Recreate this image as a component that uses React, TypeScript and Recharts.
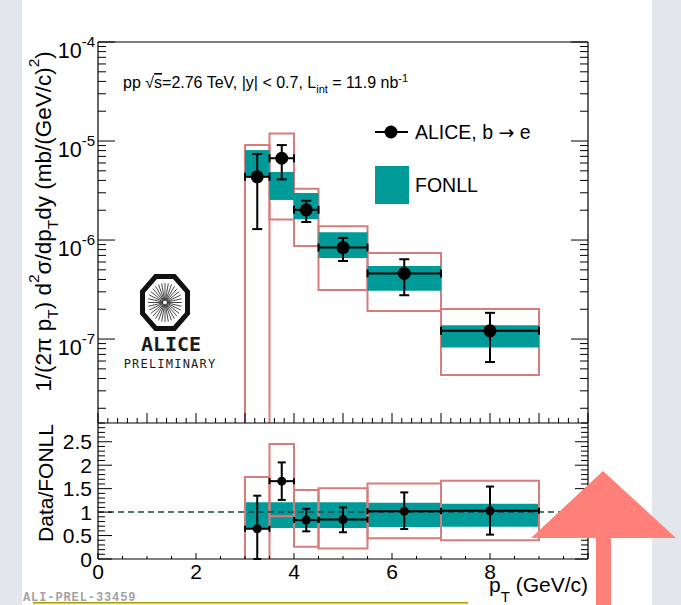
import React from 'react';
import {
  ComposedChart,
  XAxis,
  YAxis,
  Scatter,
  ErrorBar,
  ReferenceArea,
  ReferenceLine,
  Legend,
} from 'recharts';

const FONT = '"Liberation Sans", Arial, Helvetica, sans-serif';
const TEAL = '#009a99';
const SYS = '#d77b7b';
const INK = '#000000';
const GRAY = '#e3e6ea';
const ARROW = '#ff8079';

// ---- bins (pT, GeV/c) ----
const binLow = [3, 3.5, 4, 4.5, 5.5, 7];
const binHigh = [3.5, 4, 4.5, 5.5, 7, 9];
const binCenter = [3.25, 3.75, 4.25, 5, 6.25, 8];

// ---- top panel: cross section ----
const crossSection = [4.35e-6, 6.7e-6, 2.02e-6, 8.4e-7, 4.6e-7, 1.21e-7];
const crossStatHigh = [7.4e-6, 9.1e-6, 2.49e-6, 1.05e-6, 6.4e-7, 1.84e-7];
const crossStatLow = [1.29e-6, 4.1e-6, 1.52e-6, 6.14e-7, 2.77e-7, 5.86e-8];
const crossSysHigh = [9.1e-6, 1.19e-5, 3.3e-6, 1.38e-6, 7.4e-7, 2.01e-7];
const crossSysLow = [1e-9, 1.61e-6, 8.7e-7, 3.13e-7, 1.92e-7, 4.33e-8];
const fonllHigh = [8.1e-6, 4.87e-6, 2.99e-6, 1.2e-6, 5.46e-7, 1.38e-7];
const fonllLow = [4.4e-6, 2.54e-6, 1.62e-6, 6.6e-7, 3.08e-7, 8.2e-8];

// ---- bottom panel: Data/FONLL ----
const ratioValue = [0.645, 1.66, 0.83, 0.84, 1.02, 1.03];
const ratioStatHigh = [1.35, 2.06, 1.07, 1.1, 1.42, 1.545];
const ratioStatLow = [0.0, 1.26, 0.59, 0.57, 0.64, 0.52];
const ratioSysHigh = [1.75, 2.45, 1.47, 1.51, 1.61, 1.67];
const ratioSysLow = [-0.2, 0.91, 0.26, 0.225, 0.44, 0.4];
const ratioBandHigh = [1.21, 1.21, 1.21, 1.21, 1.2, 1.18];
const ratioBandLow = [0.66, 0.66, 0.66, 0.66, 0.68, 0.69];

// ---- axes ----
const TOP_Y_MIN = 1.42e-8;
const TOP_Y_MAX = 1e-4;
const RATIO_Y_MAX = 2.9;
const X_MAX = 10;
const decadeExponents = [-8, -7, -6, -5, -4];
const ratioTickLabels = [0, 0.5, 1, 1.5, 2, 2.5];
const ratioTickText = ['0', '0.5', '1', '1.5', '2', '2.5'];
const xTickLabels = [0, 2, 4, 6, 8];
const xTickText = ['0', '2', '4', '6', '8'];

const topYTicks: number[] = [];
decadeExponents.forEach((e) => {
  for (let k = 1; k <= 9; k++) {
    const v = k * Math.pow(10, e);
    if (v >= TOP_Y_MIN * 0.999 && v <= TOP_Y_MAX * 1.0001) topYTicks.push(v);
  }
});
const topXTicks = Array.from({ length: 51 }, (_, i) => +(i * 0.2).toFixed(2));
const ratioXTicks = Array.from({ length: 21 }, (_, i) => i * 0.5);
const ratioYTicks = Array.from({ length: 30 }, (_, i) => +(i * 0.1).toFixed(1));

// ---- tables for the library ----
const topRows = binCenter.map((x, i) => ({
  x,
  y: crossSection[i],
  ey: [crossSection[i] - crossStatLow[i], crossStatHigh[i] - crossSection[i]],
  ex: [x - binLow[i], binHigh[i] - x],
}));
const ratioRows = binCenter.map((x, i) => ({
  x,
  y: ratioValue[i],
  ey: [ratioValue[i] - ratioStatLow[i], ratioStatHigh[i] - ratioValue[i]],
  ex: [x - binLow[i], binHigh[i] - x],
}));

const near = (a: number, b: number) => Math.abs(a - b) < 1e-6;
const isDecade = (v: number) => near(Math.log10(v), Math.round(Math.log10(v)));
const isInt = (v: number) => near(v, Math.round(v));

type Side = 'left' | 'right' | 'top' | 'bottom';
function makeTick(
  side: Side,
  isMajor: (v: number) => boolean,
  majorLen: number,
  minorLen: number,
  label?: (v: number, x: number, y: number) => React.ReactNode
) {
  return (p: any) => {
    const { x, y, payload } = p;
    const v = payload.value as number;
    const maj = isMajor(v);
    const len = maj ? majorLen : minorLen;
    let x2 = x;
    let y2 = y;
    if (side === 'left') x2 = x + len;
    else if (side === 'right') x2 = x - len;
    else if (side === 'top') y2 = y + len;
    else y2 = y - len;
    return (
      <g>
        <line x1={x} y1={y} x2={x2} y2={y2} stroke={INK} strokeWidth={1} />
        {maj && label ? label(v, x, y) : null}
      </g>
    );
  };
}

const decadeLabel = (v: number, x: number, y: number) => {
  const e = Math.round(Math.log10(v));
  return (
    <text x={x - 3} y={y + 16} textAnchor="end" fontFamily={FONT} fontSize={21.5} fill={INK}>
      <tspan>10</tspan>
      <tspan dy={-11} fontSize={15}>
        {String(e)}
      </tspan>
    </text>
  );
};
const ratioLabel = (v: number, x: number, y: number) => {
  const idx = ratioTickLabels.findIndex((t) => near(t, v));
  return (
    <text x={x - 6} y={y + 7.5} textAnchor="end" fontFamily={FONT} fontSize={21} fill={INK}>
      {ratioTickText[idx]}
    </text>
  );
};
const xLabel = (v: number, x: number, y: number) => {
  const idx = xTickLabels.findIndex((t) => near(t, v));
  if (idx < 0) return null;
  return (
    <text x={x} y={y + 20} textAnchor="middle" fontFamily={FONT} fontSize={21} fill={INK}>
      {xTickText[idx]}
    </text>
  );
};

const isRatioMajor = (v: number) => ratioTickLabels.some((t) => near(t, v));
const isXMajor2 = (v: number) => xTickLabels.some((t) => near(t, v)) || near(v, X_MAX);

const TopYTitle = (props: any) => {
  const vb = props.viewBox;
  const x = vb.x + 51;
  const y = vb.y + vb.height / 2 - 11;
  return (
    <text transform={`translate(${x},${y}) rotate(-90)`} textAnchor="middle" fontFamily={FONT} fontSize={22.5} fill={INK}>
      <tspan>1/(2π p</tspan>
      <tspan dy={7} fontSize={15.5}>T</tspan>
      <tspan dy={-7}>) d</tspan>
      <tspan dy={-12} fontSize={15.5}>2</tspan>
      <tspan dy={12}>σ/dp</tspan>
      <tspan dy={7} fontSize={15.5}>T</tspan>
      <tspan dy={-7}>dy (mb/(GeV/c)</tspan>
      <tspan dy={-12} fontSize={15.5}>2</tspan>
      <tspan dy={12}>)</tspan>
    </text>
  );
};
const RatioYTitle = (props: any) => {
  const vb = props.viewBox;
  const x = vb.x + 53;
  const y = vb.y + vb.height / 2 - 8;
  return (
    <text transform={`translate(${x},${y}) rotate(-90)`} textAnchor="middle" fontFamily={FONT} fontSize={21} fill={INK}>
      Data/FONLL
    </text>
  );
};
const XTitle = (props: any) => {
  const vb = props.viewBox;
  return (
    <text x={vb.x + vb.width} y={vb.y + 33} textAnchor="end" fontFamily={FONT} fontSize={21} fill={INK}>
      <tspan>p</tspan>
      <tspan dy={10} fontSize={15}>T</tspan>
      <tspan dy={-10}> (GeV/c)</tspan>
    </text>
  );
};

const LegendBox = () => (
  <svg width={220} height={100} style={{ display: 'block', overflow: 'visible' }}>
    <line x1={5} x2={38} y1={17} y2={17} stroke={INK} strokeWidth={2} />
    <circle cx={21} cy={17} r={6.5} fill={INK} />
    <text x={45} y={24} fontFamily={FONT} fontSize={19.5} fill={INK}>
      <tspan>ALICE, b </tspan>
      <tspan fontFamily='"DejaVu Sans", sans-serif' fontSize={19}>→</tspan>
      <tspan> e</tspan>
    </text>
    <rect x={5} y={51} width={34} height={38} fill={TEAL} />
    <text x={45} y={77} fontFamily={FONT} fontSize={19.5} fill={INK}>
      FONLL
    </text>
  </svg>
);

const bigDot = (p: any) => <circle cx={p.cx} cy={p.cy} r={6.5} fill={INK} />;
const smallDot = (p: any) => <circle cx={p.cx} cy={p.cy} r={4.5} fill={INK} />;

function TopChart() {
  return (
    <ComposedChart width={681} height={605} margin={{ top: 40, right: 91, bottom: 180, left: 0 }}>
      <XAxis
        xAxisId="b"
        type="number"
        dataKey="x"
        orientation="bottom"
        domain={[0, X_MAX]}
        ticks={topXTicks}
        allowDataOverflow
        height={2}
        interval={0}
        tickSize={0}
        tickMargin={0}
        tickLine={false}
        axisLine={{ stroke: INK, strokeWidth: 1.2 }}
        tick={makeTick('bottom', isInt, 10, 5)}
      />
      <XAxis
        xAxisId="t"
        type="number"
        orientation="top"
        domain={[0, X_MAX]}
        ticks={topXTicks}
        allowDataOverflow
        height={2}
        interval={0}
        tickSize={0}
        tickMargin={0}
        tickLine={false}
        axisLine={{ stroke: INK, strokeWidth: 1.2 }}
        tick={makeTick('top', isInt, 10, 5)}
      />
      <YAxis
        yAxisId="l"
        type="number"
        dataKey="y"
        scale="log"
        domain={[TOP_Y_MIN, TOP_Y_MAX]}
        ticks={topYTicks}
        allowDataOverflow
        width={98}
        interval={0}
        tickSize={0}
        tickMargin={0}
        tickLine={false}
        axisLine={{ stroke: INK, strokeWidth: 1.2 }}
        tick={makeTick('left', isDecade, 17, 8, decadeLabel)}
        label={TopYTitle}
      />
      <YAxis
        yAxisId="r"
        type="number"
        orientation="right"
        scale="log"
        domain={[TOP_Y_MIN, TOP_Y_MAX]}
        ticks={topYTicks}
        allowDataOverflow
        width={2}
        interval={0}
        tickSize={0}
        tickMargin={0}
        tickLine={false}
        axisLine={{ stroke: INK, strokeWidth: 1.2 }}
        tick={makeTick('right', isDecade, 17, 8)}
      />
      {binLow.map((lo, i) => (
        <ReferenceArea
          key={'sys' + i}
          xAxisId="b"
          yAxisId="l"
          x1={lo}
          x2={binHigh[i]}
          y1={crossSysLow[i]}
          y2={crossSysHigh[i]}
          fill="none"
          stroke={SYS}
          strokeWidth={2}
          ifOverflow="hidden"
        />
      ))}
      {binLow.map((lo, i) => (
        <ReferenceArea
          key={'fonll' + i}
          xAxisId="b"
          yAxisId="l"
          x1={lo}
          x2={binHigh[i]}
          y1={fonllLow[i]}
          y2={fonllHigh[i]}
          fill={TEAL}
          fillOpacity={1}
          stroke="none"
          ifOverflow="hidden"
        />
      ))}
      <Scatter
        xAxisId="b"
        yAxisId="l"
        data={topRows}
        dataKey="y"
        shape={bigDot}
        isAnimationActive={false}
        legendType="none"
      >
        <ErrorBar dataKey="ey" direction="y" width={5} stroke={INK} strokeWidth={2} isAnimationActive={false} />
        <ErrorBar dataKey="ex" direction="x" width={4} stroke={INK} strokeWidth={2} isAnimationActive={false} />
      </Scatter>
      <Legend
        layout="horizontal"
        verticalAlign="middle"
        align="center"
        content={() => <LegendBox />}
        wrapperStyle={{ position: 'absolute', left: 370, top: 115, width: 220, height: 100 }}
      />
    </ComposedChart>
  );
}

function RatioChart() {
  return (
    <ComposedChart width={681} height={605} margin={{ top: 423, right: 91, bottom: 5, left: 0 }}>
      <XAxis
        xAxisId="b"
        type="number"
        dataKey="x"
        orientation="bottom"
        domain={[0, X_MAX]}
        ticks={ratioXTicks}
        allowDataOverflow
        height={41}
        interval={0}
        tickSize={0}
        tickMargin={0}
        tickLine={false}
        axisLine={{ stroke: INK, strokeWidth: 1.2 }}
        tick={makeTick('bottom', isXMajor2, 6, 3, xLabel)}
        label={XTitle}
      />
      <YAxis
        yAxisId="l"
        type="number"
        dataKey="y"
        domain={[0, RATIO_Y_MAX]}
        ticks={ratioYTicks}
        allowDataOverflow
        width={98}
        interval={0}
        tickSize={0}
        tickMargin={0}
        tickLine={false}
        axisLine={{ stroke: INK, strokeWidth: 1.2 }}
        tick={makeTick('left', isRatioMajor, 14, 7, ratioLabel)}
        label={RatioYTitle}
      />
      <YAxis
        yAxisId="r"
        type="number"
        orientation="right"
        domain={[0, RATIO_Y_MAX]}
        ticks={ratioYTicks}
        allowDataOverflow
        width={2}
        interval={0}
        tickSize={0}
        tickMargin={0}
        tickLine={false}
        axisLine={{ stroke: INK, strokeWidth: 1.2 }}
        tick={makeTick('right', isRatioMajor, 13, 7)}
      />
      {binLow.map((lo, i) => (
        <ReferenceArea
          key={'band' + i}
          xAxisId="b"
          yAxisId="l"
          x1={lo}
          x2={binHigh[i]}
          y1={ratioBandLow[i]}
          y2={ratioBandHigh[i]}
          fill={TEAL}
          fillOpacity={1}
          stroke="none"
          ifOverflow="hidden"
        />
      ))}
      {binLow.map((lo, i) => (
        <ReferenceArea
          key={'rsys' + i}
          xAxisId="b"
          yAxisId="l"
          x1={lo}
          x2={binHigh[i]}
          y1={ratioSysLow[i]}
          y2={ratioSysHigh[i]}
          fill="none"
          stroke={SYS}
          strokeWidth={2}
          ifOverflow="hidden"
        />
      ))}
      <ReferenceLine
        xAxisId="b"
        yAxisId="l"
        y={1}
        stroke="#1d4747"
        strokeWidth={1.5}
        strokeDasharray="6 4"
      />
      <Scatter
        xAxisId="b"
        yAxisId="l"
        data={ratioRows}
        dataKey="y"
        shape={smallDot}
        isAnimationActive={false}
        legendType="none"
      >
        <ErrorBar dataKey="ey" direction="y" width={4} stroke={INK} strokeWidth={2} isAnimationActive={false} />
        <ErrorBar dataKey="ex" direction="x" width={3} stroke={INK} strokeWidth={2} isAnimationActive={false} />
      </Scatter>
    </ComposedChart>
  );
}

function AliceLogo() {
  const cx = 165;
  const cy = 302.5;
  const a = 22.5;
  const b = 26;
  const t = Math.tan(Math.PI / 8);
  const pts = [
    [a, b * t], [a * t, b], [-a * t, b], [-a, b * t],
    [-a, -b * t], [-a * t, -b], [a * t, -b], [a, -b * t],
  ]
    .map(([px, py]) => `${cx + px},${cy + py}`)
    .join(' ');
  const rays = Array.from({ length: 32 }, (_, i) => (i * Math.PI * 2) / 32);
  return (
    <g>
      <polygon points={pts} fill="#fff" stroke="#111" strokeWidth={5} strokeLinejoin="miter" />
      {rays.map((ang, i) => (
        <line
          key={i}
          x1={cx + Math.cos(ang) * 2}
          y1={cy + Math.sin(ang) * 2}
          x2={cx + Math.cos(ang) * 17}
          y2={cy + Math.sin(ang) * 19.5}
          stroke="#333"
          strokeWidth={0.9}
        />
      ))}
      <text x={171} y={351} textAnchor="middle" fontFamily='"DejaVu Sans Mono", monospace' fontWeight="bold" fontSize={20} fill="#1a1a1a">
        ALICE
      </text>
      <text x={170} y={367.5} textAnchor="middle" fontFamily='"DejaVu Sans Mono", monospace' fontSize={12} letterSpacing={1.2} fill="#1a1a1a">
        PRELIMINARY
      </text>
    </g>
  );
}

export default function App() {
  return (
    <div style={{ position: 'absolute', left: 0, top: 0, width: 681, height: 605, background: '#ffffff', overflow: 'hidden' }}>
      <div style={{ position: 'absolute', left: 0, top: 0, width: 22, height: 605, background: GRAY }} />
      <div style={{ position: 'absolute', left: 652, top: 0, width: 29, height: 605, background: GRAY }} />
      <div style={{ position: 'absolute', left: 0, top: 0, width: 681, height: 605 }}>
        <RatioChart />
      </div>
      <div style={{ position: 'absolute', left: 0, top: 0, width: 681, height: 605 }}>
        <TopChart />
      </div>
      <svg style={{ position: 'absolute', left: 0, top: 0, pointerEvents: 'none' }} width={681} height={605}>
        <text x={123} y={88} fontFamily={FONT} fontSize={16} fill={INK}>
          <tspan>pp √</tspan>
          <tspan style={{ textDecoration: 'overline' }}>s</tspan>
          <tspan>=2.76 TeV, |y| &lt; 0.7, L</tspan>
          <tspan dy={5} fontSize={11}>int</tspan>
          <tspan dy={-5}> = 11.9 nb</tspan>
          <tspan dy={-6} fontSize={11}>-1</tspan>
        </text>
        <AliceLogo />
        <text x={23} y={601} fontFamily='"Liberation Mono", monospace' fontWeight="bold" fontSize={12} letterSpacing={0.9} fill="#a3a3a3">
          ALI-PREL-33459
        </text>
        <rect x={33} y={603.5} width={435} height={1.5} fill="#fbf6b5" />
        <line x1={33} x2={468} y1={602.8} y2={602.8} stroke="#a39c12" strokeWidth={1.5} />
        <polygon points="531,538 603,471 676,538" fill={ARROW} />
        <rect x={596} y={537} width={15} height={68} fill={ARROW} />
      </svg>
    </div>
  );
}
